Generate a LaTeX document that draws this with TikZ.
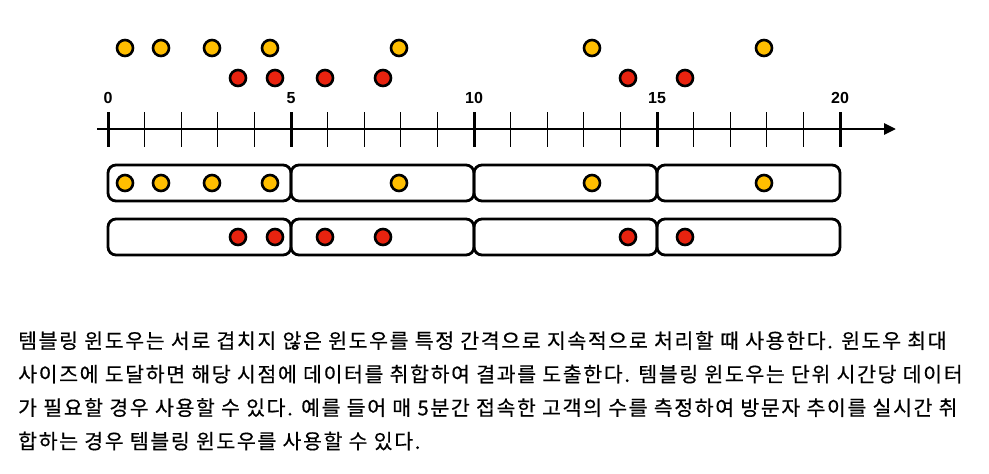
\documentclass[tikz,border=0pt]{standalone}
\usepackage{fontspec}
\setmainfont{Noto Sans CJK KR}[LetterSpace=8,FakeBold=0.4]
\newfontfamily\labfont{Liberation Sans}
\usetikzlibrary{arrows.meta}
\definecolor{dotyellow}{RGB}{255,190,0}
\definecolor{dotred}{RGB}{232,35,15}
\tikzset{
  ydot/.style={circle,draw=black,line width=2.6pt,fill=dotyellow,minimum size=16pt,inner sep=0pt},
  rdot/.style={circle,draw=black,line width=2.6pt,fill=dotred,minimum size=16pt,inner sep=0pt},
  win/.style={draw=black,line width=2.8pt,rounded corners=8pt,minimum width=183pt,minimum height=36pt,inner sep=0pt},
  ticklab/.style={font=\labfont\bfseries\fontsize{16}{16}\selectfont,inner sep=0pt},
  body/.style={font=\fontsize{20.5}{33.5}\selectfont,align=left,anchor=north west,inner sep=0pt},
}
\begin{document}
\begin{tikzpicture}[x=1pt,y=-1pt]
\useasboundingbox (0,0) rectangle (989,474);
% axis
\coordinate (axs) at (97,129);
\coordinate (axe) at (896,129);
\draw[line width=2.8pt,-{Triangle[length=12pt,width=11pt]}] (axs) -- (axe);
\foreach \i in {0,...,20}{
  \pgfmathsetmacro\xx{108+36.6*\i}
  \draw[line width=1.3pt] (\xx,112) -- (\xx,147);
}
\foreach \i/\n in {0/a,5/b,10/c,15/d,20/e}{
  \pgfmathsetmacro\xx{108+36.6*\i}
  \draw[line width=3pt] (\xx,112) -- (\xx,147);
  \node[ticklab] (lab\n) at (\xx,98) {\i};
}
% windows
\foreach \k in {0,1,2,3}{
  \pgfmathsetmacro\xx{199.5+183*\k}
  \node[win] (wy\k) at (\xx,183) {};
  \node[win] (wr\k) at (\xx,237) {};
}
% yellow dots
\foreach \x [count=\c] in {125,161,212,270,399,592,764}{
  \node[ydot] (y\c) at (\x,48) {};
  \node[ydot] (yw\c) at (\x,183) {};
}
\foreach \x [count=\c] in {238,275,325,383,628,685}{
  \node[rdot] (r\c) at (\x,78) {};
  \node[rdot] (rw\c) at (\x,237) {};
}
\node[body] (txt) at (18,331) {템블링 윈도우는 서로 겹치지 않은 윈도우를 특정 간격으로 지속적으로 처리할 때 사용한다. 윈도우 최대\\
사이즈에 도달하면 해당 시점에 데이터를 취합하여 결과를 도출한다. 템블링 윈도우는 단위 시간당 데이터\\
가 필요할 경우 사용할 수 있다. 예를 들어 매 5분간 접속한 고객의 수를 측정하여 방문자 추이를 실시간 취\\
합하는 경우 템블링 윈도우를 사용할 수 있다.};
\end{tikzpicture}
\end{document}
